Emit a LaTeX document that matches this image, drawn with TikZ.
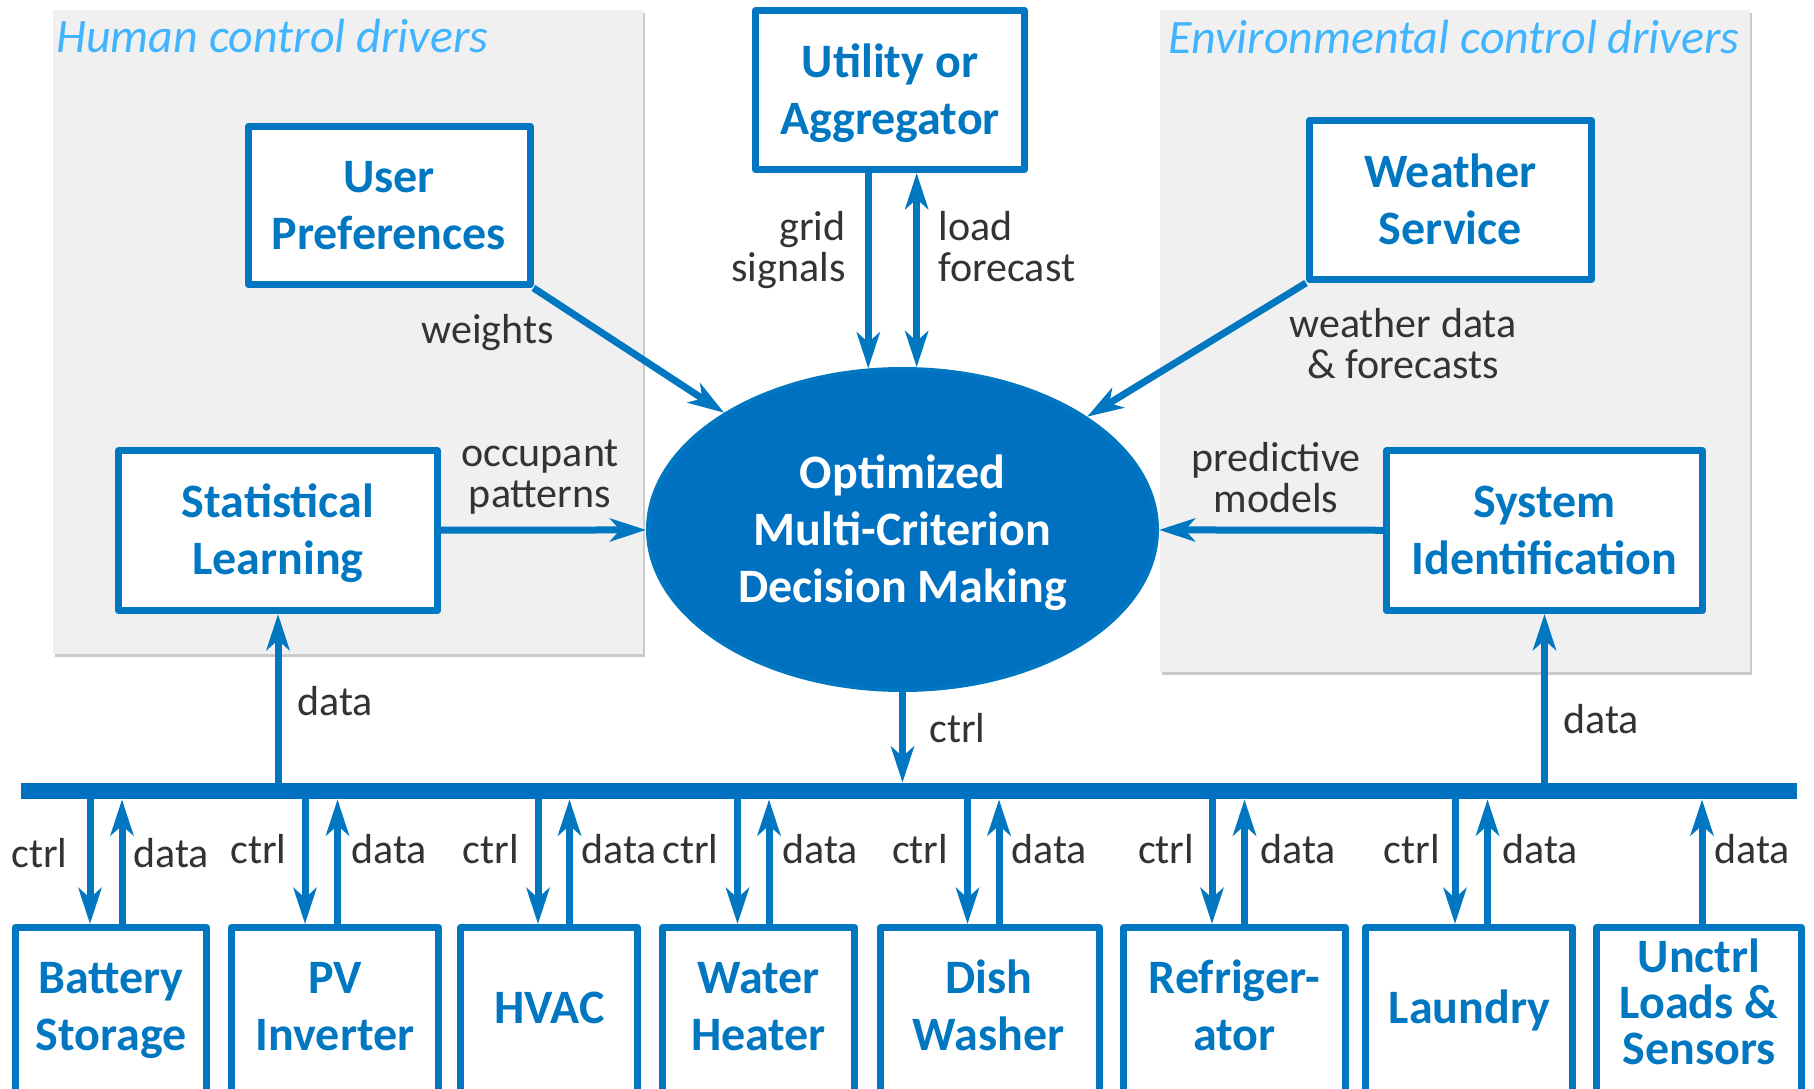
\documentclass[tikz,border=0pt]{standalone}
\usepackage{fontspec}
\setmainfont{Carlito}
\usetikzlibrary{arrows.meta,shadows,shapes.geometric}
\definecolor{cblue}{RGB}{0,119,192}
\definecolor{dblue}{RGB}{0,112,192}
\definecolor{tblue}{RGB}{64,180,255}
\definecolor{lgray}{RGB}{50,50,55}
\definecolor{pgray}{RGB}{240,240,240}
\newcommand\mystrut{\rule[-0.228\baselineskip]{0pt}{\baselineskip}}
\newcommand\boxfont{\fontsize{24pt}{28.5pt}\selectfont\bfseries}
\newcommand\boxfontt{\fontsize{24pt}{23pt}\selectfont\bfseries}
\newcommand\labfont{\fontsize{21pt}{20.5pt}\selectfont}
\newcommand\ttlfont{\fontsize{24pt}{28pt}\selectfont\itshape}
\tikzset{
  box/.style={draw=cblue, line width=3.5pt, line join=round, fill=white, text=cblue,
    font=\boxfont, align=center, inner sep=0pt},
  bbox/.style={box, minimum height=96.25pt},
  btxt/.style={text=cblue, font=\boxfont, align=center, inner sep=0pt},
  lab/.style={text=lgray, font=\labfont, inner sep=0pt},
  arr/.style={draw=cblue, line width=3.5pt, -{Stealth[length=18pt,width=11.5pt,inset=5pt]}},
  arrb/.style={draw=cblue, line width=3.5pt,
    {Stealth[length=18pt,width=11.5pt,inset=5pt]}-{Stealth[length=18pt,width=11.5pt,inset=5pt]}},
  panel/.style={fill=pgray, draw=none, inner sep=0pt,
    drop shadow={shadow xshift=0.8pt, shadow yshift=-1.6pt, fill=black!45, opacity=0.45}},
  ttl/.style={text=tblue, font=\ttlfont, inner sep=0pt, anchor=base west},
}
\begin{document}
\begin{tikzpicture}[x=0.5pt, y=-0.5pt]
\useasboundingbox (0,0) rectangle (1814,1088);
\clip (0,0) rectangle (1814,1088);
\fill[white] (0,0) rectangle (1814,1088);

% panels
\node[panel, minimum width=295pt, minimum height=322pt] (panL) at (348,332) {};
\node[panel, minimum width=295pt, minimum height=331pt] (panR) at (1455,341) {};
\node[ttl] (tL) at (56,52) {Human control drivers};
\node[ttl] (tR) at (1168,53) {Environmental control drivers};

% upper boxes
\node[box, minimum width=134.5pt, minimum height=79.5pt] (util) at (890,90) {\mystrut Utility or\\\mystrut Aggregator};
\node[box, minimum width=141pt, minimum height=79pt] (up) at (389,205.5) {\mystrut User\\\mystrut Preferences};
\node[box, minimum width=141pt, minimum height=79.5pt] (ws) at (1450.5,200) {\mystrut Weather\\\mystrut Service};
\node[box, minimum width=159.5pt, minimum height=80pt] (sl) at (278,530.5) {\mystrut Statistical\\\mystrut Learning};
\node[box, minimum width=158pt, minimum height=80pt] (si) at (1544.5,530.5) {\mystrut System\\\mystrut Identification};

% central ellipse
\node[ellipse, draw=cblue, line width=2pt, fill=dblue, text=white, font=\boxfont, align=center,
  inner sep=0pt, minimum width=254.5pt, minimum height=160.5pt] (ell) at (902.5,529.5)
  {\mystrut Optimized\\\mystrut Multi-Criterion\\\mystrut Decision Making};

% bus
\node[fill=dblue, inner sep=0pt, minimum width=888pt, minimum height=8pt] (bus) at (909,791) {};

% bottom boxes
\node[bbox, minimum width=95.5pt]  (bat)  at (110.5,1023.75) {};
\node[bbox, minimum width=103.5pt] (pv)   at (335,1023.75) {};
\node[bbox, minimum width=88.25pt] (hvac) at (549,1023.75) {};
\node[bbox, minimum width=96pt]    (wh)   at (758.5,1023.75) {};
\node[bbox, minimum width=109.5pt] (dw)   at (990,1023.75) {};
\node[bbox, minimum width=111pt]   (ref)  at (1234.5,1023.75) {};
\node[bbox, minimum width=103.5pt] (lau)  at (1469,1023.75) {};
\node[bbox, minimum width=102.5pt] (unc)  at (1699,1023.75) {};

\node[btxt] (batT)  at (111,1006)   {\mystrut Battery\\\mystrut Storage};
\node[btxt] (pvT)   at (335,1006)   {\mystrut PV\\\mystrut Inverter};
\node[btxt] (hvacT) at (549.5,1007.5) {\mystrut HVAC};
\node[btxt] (whT)   at (758.5,1006) {\mystrut Water\\\mystrut Heater};
\node[btxt] (dwT)   at (988.5,1006) {\mystrut Dish\\\mystrut Washer};
\node[btxt] (refT)  at (1234.5,1006) {\mystrut Refriger-\\\mystrut ator};
\node[btxt] (lauT)  at (1469.5,1007.5) {\mystrut Laundry};
\node[btxt, font=\boxfontt] (uncT) at (1699,1005.5) {\mystrut Unctrl\\\mystrut Loads \&\\\mystrut Sensors};

% labels
\node[lab] (lw) at (487.5,331.9) {\mystrut weights};
\node[lab, align=right, anchor=east] (lg) at (846,250) {\mystrut grid\\\mystrut signals};
\node[lab, align=left, anchor=west] (llf) at (938,250) {\mystrut load\\\mystrut forecast};
\node[lab, align=center] (lop) at (540,476.3) {\mystrut occupant\\\mystrut patterns};
\node[lab, align=center] (lwd) at (1403,346.4) {\mystrut weather data\\\mystrut \& forecasts};
\node[lab, align=center] (lpm) at (1276,480.4) {\mystrut predictive\\\mystrut models};
\node[lab, anchor=west] (ld1) at (297,703.9) {\mystrut data};
\node[lab, anchor=west] (lc0) at (929,730.9) {\mystrut ctrl};
\node[lab, anchor=west] (ld2) at (1563,721.9) {\mystrut data};

% connectors (upper)
\draw[arr] (up.south east) -- (ell);
\draw[arr] (ws.south west) -- (ell);
\draw[arr] (sl) -- (ell);
\draw[arr] (si) -- (ell);
\draw[arr] (util.south -| ell.102.1) -- (ell.102.1);
\draw[arrb] (util.south -| ell.85.9) -- (ell.85.9);
\draw[arr] (ell.south) -- (ell.south |- bus.north);
\draw[arr] (bus.north -| sl.south) -- (sl.south);
\draw[arr] (bus.north -| si.south) -- (si.south);

% bottom connectors and labels
\foreach \n/\c/\d/\cl/\dl/\yy in {bat/90/122/68/133/855.9, pv/305/337.5/287/351/851.9,
    hvac/538/569.5/519.5/581/851.9, wh/737.5/769/719/782/851.9, dw/967.5/999/948.5/1011/851.9,
    ref/1212/1244.5/1194.5/1260/851.9, lau/1455/1487.5/1440/1502/851.9} {
  \coordinate (c\n) at (\c,0);
  \coordinate (d\n) at (\d,0);
  \draw[arr] (bus.south -| c\n) -- (\n.north -| c\n);
  \draw[arr] (\n.north -| d\n) -- (bus.south -| d\n);
  \node[lab, anchor=east] (lc\n) at (\cl,\yy) {\mystrut ctrl};
  \node[lab, anchor=west] (ld\n) at (\dl,\yy) {\mystrut data};
}
\coordinate (dunc) at (1702,0);
\draw[arr] (unc.north -| dunc) -- (bus.south -| dunc);
\node[lab, anchor=west] (ldunc) at (1714,851.9) {\mystrut data};
\end{tikzpicture}
\end{document}
